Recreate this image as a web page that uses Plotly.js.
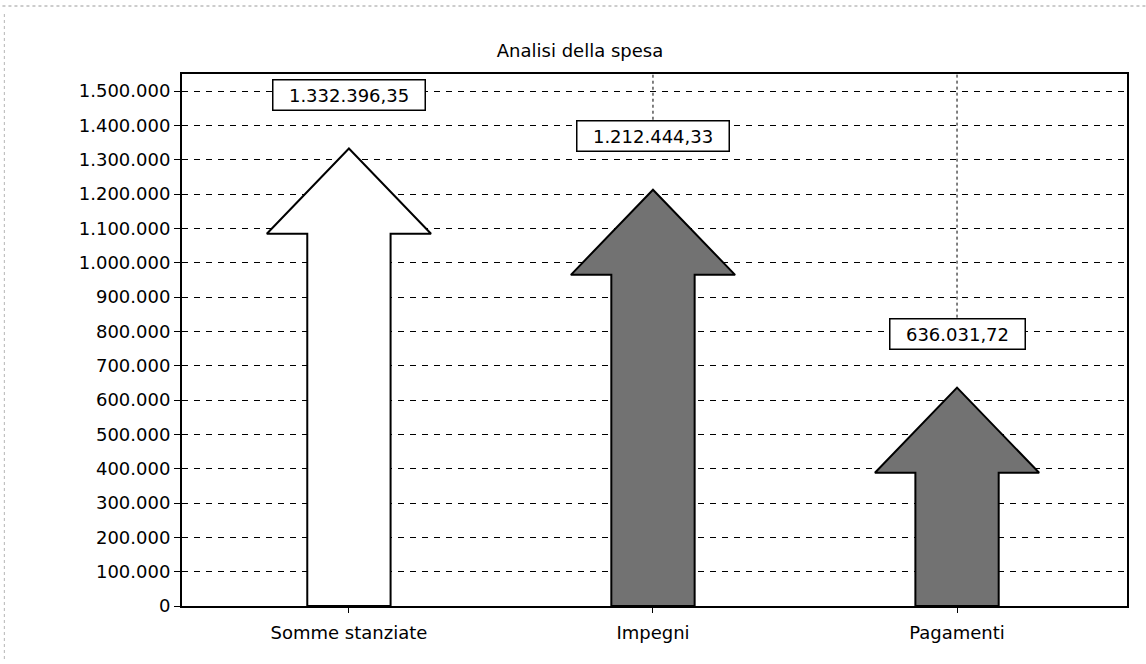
<!DOCTYPE html>
<html>
<head>
<meta charset="utf-8">
<script src="https://cdn.plot.ly/plotly-3.0.1.min.js"></script>
<style>
  html, body { margin: 0; padding: 0; background: #ffffff; }
  #chart { width: 1146px; height: 664px; }
</style>
</head>
<body>
<div id="chart"></div>
<script>
// ---- data ----
const categories = ['Somme stanziate', 'Impegni', 'Pagamenti'];
const values = [1332396.35, 1212444.33, 636031.72];
const arrowColors = ['#ffffff', '#727272', '#727272'];
const yTickValues = [0, 100000, 200000, 300000, 400000, 500000, 600000, 700000,
  800000, 900000, 1000000, 1100000, 1200000, 1300000, 1400000, 1500000];
const chartTitle = 'Analisi della spesa';

// ---- style constants ----
const FONT = 'DejaVu Sans, Arial, sans-serif';
const HEAD_HALF = 0.27;     // half width of arrow head (category units)
const SHAFT_HALF = 0.137;   // half width of arrow shaft (category units)
const HEAD_H = 248000;      // arrow head height (value units)
const Y_MAX = 1549500;
const X_RANGE = [-0.549, 2.559];
const M = {l: 182, r: 19, t: 74, b: 58};
const PLOT_H = 664 - M.t - M.b;
const LABEL_SHIFT = 54;

function fmtIt(v) {
  const parts = v.toFixed(2).split('.');
  const int = parts[0].replace(/\B(?=(\d{3})+(?!\d))/g, '.');
  return int + ',' + parts[1];
}

const traces = categories.map((c, i) => {
  const v = values[i];
  const base = v - HEAD_H;
  return {
    type: 'scatter',
    mode: 'lines',
    x: [i - SHAFT_HALF, i - SHAFT_HALF, i - HEAD_HALF, i, i + HEAD_HALF, i + SHAFT_HALF, i + SHAFT_HALF, i - SHAFT_HALF],
    y: [0, base, base, v, base, base, 0, 0],
    fill: 'toself',
    fillcolor: arrowColors[i],
    line: {color: '#000000', width: 2},
    hoverinfo: 'skip',
    showlegend: false
  };
});

const pxPerUnit = PLOT_H / Y_MAX;
const annotations = categories.map((c, i) => ({
  x: i, y: values[i], xref: 'x', yref: 'y',
  text: '\u00a0\u00a0' + fmtIt(values[i]) + '\u00a0\u00a0',
  showarrow: false,
  yshift: LABEL_SHIFT,
  xanchor: 'center', yanchor: 'middle',
  bgcolor: '#ffffff',
  bordercolor: '#000000',
  borderwidth: 1.5,
  borderpad: 4,
  font: {family: FONT, size: 18, color: '#000000'}
}));

// dotted leader lines above the value boxes of the 2nd and 3rd arrows
const shapes = [];
[1, 2].forEach(i => {
  const boxTop = values[i] + (LABEL_SHIFT + 16) / pxPerUnit;
  shapes.push({
    type: 'line', xref: 'x', yref: 'y',
    x0: i, x1: i, y0: boxTop, y1: Y_MAX,
    line: {color: '#000000', width: 1, dash: 'dot'},
    layer: 'below'
  });
});
// faint scan border
shapes.push({
  type: 'line', xref: 'paper', yref: 'paper',
  x0: -0.19, x1: 1.02, y0: 1 + 68 / PLOT_H, y1: 1 + 68 / PLOT_H,
  line: {color: '#9a9a9a', width: 1, dash: 'dot'}
});
shapes.push({
  type: 'line', xref: 'paper', yref: 'paper',
  x0: -0.188, x1: -0.188, y0: 1 + 60 / PLOT_H, y1: -0.1,
  line: {color: '#b5b5b5', width: 1, dash: 'dot'}
});

const layout = {
  width: 1146, height: 664,
  margin: M,
  paper_bgcolor: '#ffffff',
  plot_bgcolor: '#ffffff',
  separators: ',.',
  font: {family: FONT, size: 18, color: '#000000'},
  title: {
    text: chartTitle,
    font: {family: FONT, size: 18, color: '#000000'},
    x: 580 / 1146, xref: 'container', xanchor: 'center',
    y: 1 - 51 / 664, yref: 'container', yanchor: 'middle'
  },
  xaxis: {
    range: X_RANGE,
    tickvals: [0, 1, 2],
    ticktext: categories,
    showgrid: false,
    zeroline: false,
    showline: true, linecolor: '#000000', linewidth: 2, mirror: true,
    ticks: 'outside', ticklen: 5, tickwidth: 1, tickcolor: '#000000',
    ticklabelstandoff: 4,
    tickfont: {family: FONT, size: 18, color: '#000000'},
    fixedrange: true
  },
  yaxis: {
    range: [0, Y_MAX],
    tickvals: yTickValues,
    tickformat: ',d',
    showgrid: true, gridcolor: '#000000', gridwidth: 1, griddash: '6px,6px',
    zeroline: false,
    showline: true, linecolor: '#000000', linewidth: 2, mirror: true,
    ticks: 'outside', ticklen: 6, tickwidth: 1, tickcolor: '#000000',
    tickfont: {family: FONT, size: 18, color: '#000000'},
    fixedrange: true
  },
  annotations: annotations,
  shapes: shapes
};

Plotly.newPlot('chart', traces, layout, {displayModeBar: false, staticPlot: true});
</script>
</body>
</html>
